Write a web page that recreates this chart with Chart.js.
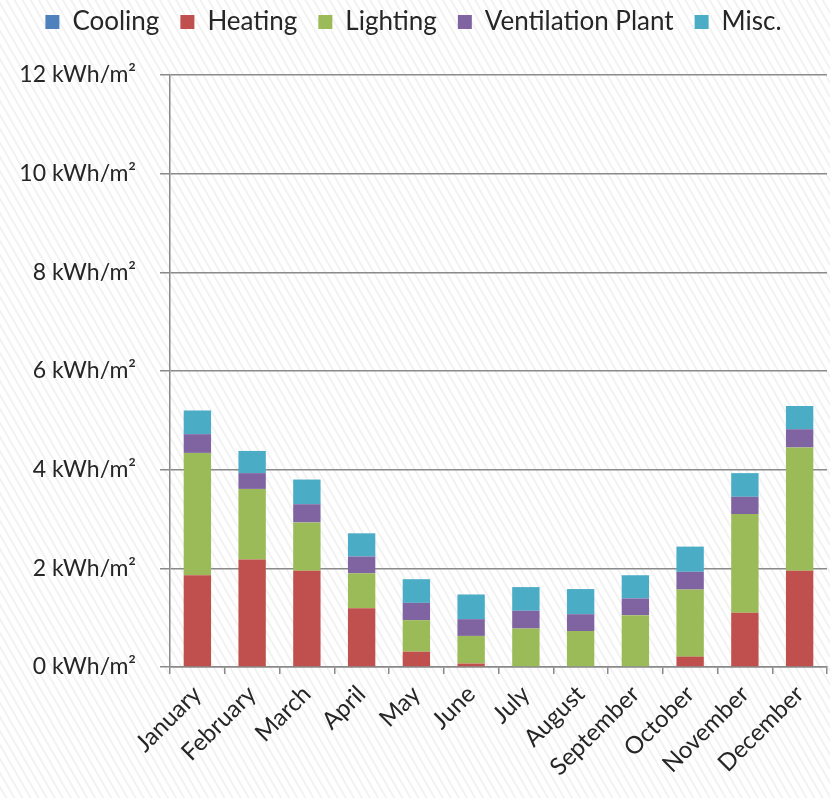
<!DOCTYPE html>
<html>
<head>
<meta charset="utf-8">
<title>Monthly energy use</title>
<script src="https://cdn.jsdelivr.net/npm/chart.js@4/dist/chart.umd.min.js"></script>
<style>
  html, body { margin: 0; padding: 0; }
  body {
    width: 830px; height: 798px; overflow: hidden;
    background-color: #ffffff;
    background-image: repeating-linear-gradient(60deg, #ffffff 0px, #ffffff 4px, #f2f2f2 5px, #f2f2f2 6px, #ffffff 7px);
  }
  #wrap { position: absolute; left: 0; top: 0; width: 830px; height: 798px; }
</style>
</head>
<body>
<div id="wrap"><canvas id="chart" width="830" height="798"></canvas></div>
<script>
// Monthly delivered energy per floor area, by end use (kWh/m²)
const months = ['January', 'February', 'March', 'April', 'May', 'June',
                'July', 'August', 'September', 'October', 'November', 'December'];

const cooling     = [0, 0, 0, 0, 0, 0, 0, 0, 0, 0, 0, 0];
const heating     = [1.86, 2.18, 1.95, 1.19, 0.31, 0.07, 0, 0, 0, 0.21, 1.10, 1.95];
const lighting    = [2.48, 1.43, 0.98, 0.71, 0.64, 0.56, 0.78, 0.73, 1.05, 1.36, 2.00, 2.50];
const ventilation = [0.38, 0.32, 0.37, 0.34, 0.35, 0.34, 0.36, 0.34, 0.34, 0.36, 0.35, 0.37];
const misc        = [0.48, 0.45, 0.50, 0.47, 0.48, 0.50, 0.48, 0.51, 0.47, 0.51, 0.48, 0.47];

const yTicks = [0, 2, 4, 6, 8, 10, 12];

const FONT = 'Lato, "Open Sans", sans-serif';
const TEXT = '#262626';
const GRID = '#8a8a8a';

const series = [
  { label: 'Cooling',           data: cooling,     color: '#4F81BD' },
  { label: 'Heating',           data: heating,     color: '#C0504D' },
  { label: 'Lighting',          data: lighting,    color: '#9BBB59' },
  { label: 'Ventilation Plant', data: ventilation, color: '#8064A2' },
  { label: 'Misc.',             data: misc,        color: '#4BACC6' }
];

// Leaves a gap between the legend row and the plot area
const legendGap = {
  id: 'legendGap',
  beforeInit(chart) {
    const fit = chart.legend.fit;
    chart.legend.fit = function () {
      fit.call(this);
      this.height += 30;
    };
  }
};

new Chart(document.getElementById('chart'), {
  type: 'bar',
  plugins: [legendGap],
  data: {
    labels: months,
    datasets: series.map(s => ({
      label: s.label,
      data: s.data,
      backgroundColor: s.color,
      borderWidth: 0,
      barPercentage: 0.5,
      categoryPercentage: 1.0
    }))
  },
  options: {
    responsive: false,
    animation: false,
    layout: { padding: { left: 0, right: 3, top: -12, bottom: 0 } },
    plugins: {
      tooltip: { enabled: false },
      legend: {
        position: 'top',
        labels: {
          boxWidth: 14,
          boxHeight: 14,
          padding: 21,
          color: TEXT,
          font: { family: FONT, size: 26 }
        }
      }
    },
    scales: {
      x: {
        stacked: true,
        grid: {
          display: true,
          drawOnChartArea: false,
          drawTicks: true,
          tickLength: 7,
          color: GRID,
          lineWidth: 1.5
        },
        border: { display: true, color: GRID, width: 1.5 },
        ticks: {
          color: TEXT,
          font: { family: FONT, size: 24 },
          minRotation: 45,
          maxRotation: 45,
          autoSkip: false,
          padding: 6
        },
        afterFit: s => { s.height = 131; }
      },
      y: {
        stacked: true,
        min: 0,
        max: 12,
        afterBuildTicks: s => { s.ticks = yTicks.map(v => ({ value: v })); },
        grid: {
          color: GRID,
          lineWidth: 1.5,
          tickLength: 10,
          drawTicks: true
        },
        border: { display: true, color: GRID, width: 1.5 },
        ticks: {
          color: TEXT,
          font: { family: FONT, size: 23 },
          padding: 24,
          callback: v => v + ' kWh/m²'
        },
        afterFit: s => { s.width = 170; }
      }
    }
  }
});
</script>
</body>
</html>
